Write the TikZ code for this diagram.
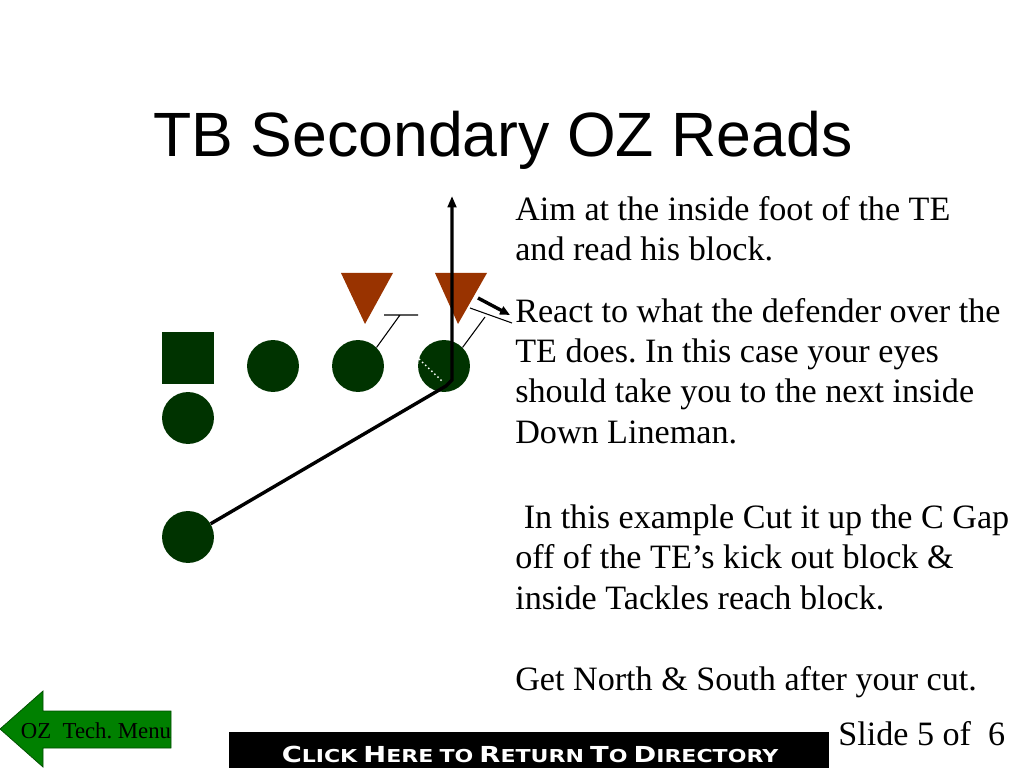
\documentclass[tikz,border=0pt]{standalone}
\usepackage{fontspec}
\setmainfont{Liberation Serif}
\newfontfamily\titlefont{Liberation Sans}
\newfontfamily\barfont{DejaVu Sans}
\usetikzlibrary{arrows.meta}
\definecolor{playergreen}{HTML}{003300}
\definecolor{defred}{HTML}{993300}
\definecolor{menugreen}{HTML}{008000}
\newcommand{\capsword}[2]{{\fontsize{15.5}{15.5}\selectfont #1}{\fontsize{12.5}{12.5}\selectfont #2}}
\frenchspacing
\begin{document}
\begin{tikzpicture}[x=0.703125pt,y=-0.703125pt,
	player/.style={circle,fill=playergreen,minimum size=36.5pt,inner sep=0pt},
	route/.style={line width=2.4pt,-{Triangle[length=8pt,width=6pt]}},
	block/.style={line width=0.75pt},
	notes/.style={anchor=base west,inner sep=0pt,align=left,font=\fontsize{24}{28.2}\selectfont}]
	\useasboundingbox (0,0) rectangle (1024,768);
	\node[anchor=base,inner sep=0pt,font=\titlefont\fontsize{44}{44}\selectfont] (title) at (503,157) {TB Secondary OZ Reads};
	% offense
	\node[fill=playergreen,minimum size=35.9pt,inner sep=0pt] (qb) at (188,358) {};
	\node[player] (fb) at (188,418) {};
	\node[player] (tackle) at (273,366) {};
	\node[player] (guard) at (358,366) {};
	\node[player] (te) at (444,366) {};
	\node[player] (tb) at (188,537) {};
	% defense
	\fill[defred] (341,273) -- (393,273) -- (365,324) -- cycle;
	\fill[defred] (435,273) -- (487,273) -- (458,324) -- cycle;
	% blocks
	\draw[block] (guard.45) -- (400,315) (384,315) -- (418,315);
	\draw[block] (te.45) -- (485,317) (470,308) -- (512,323);
	\draw[white,dotted,line width=1pt] (419,359) -- (443,382);
	\draw[line width=2.4pt,-{Triangle[length=7pt,width=6pt]}] (478,298) -- (510,315);
	% TB path
	\coordinate (bend) at (446,386);
	\coordinate (cut) at (452,380);
	\coordinate (north) at (452,196);
	\draw[route] (tb) -- (bend) -- (cut) -- (north);
	% notes (base = last line)
	\node[notes] (aim) at (515,261) {Aim at the inside foot of the TE\\and read his block.};
	\node[notes] (react) at (515,443) {React to what the defender over the\\TE does. In this case your eyes\\should take you to the next inside\\Down Lineman.};
	\node[notes] (cutgap) at (515,609) {\ In this example Cut it up the C Gap\\off of the TE’s kick out block \&\\inside Tackles reach block.};
	\node[notes] (getnorth) at (515,690) {Get North \& South after your cut.};
	% footer
	\fill[menugreen,draw=black!70!green,line width=0.5pt] (0,729) -- (43,691) -- (43,711) -- (171,711) -- (171,748) -- (43,748) -- (43,767) -- cycle;
	\node[anchor=base,inner sep=0pt,font=\fontsize{16}{16}\selectfont] (menu) at (96,738) {OZ\ \ Tech. Menu};
	\fill[black] (229,732) rectangle (829,768);
	\node[anchor=base,inner sep=0pt,text=white,font=\barfont\bfseries] (directory) at (530,762) {\scalebox{1.24}[1]{\capsword{C}{LICK} \capsword{H}{ERE} \capsword{}{TO} \capsword{R}{ETURN} \capsword{T}{O} \capsword{D}{IRECTORY}}};
	\node[anchor=base west,inner sep=0pt,font=\fontsize{24}{24}\selectfont] (slide) at (838,745) {Slide 5 of\ \ 6};
\end{tikzpicture}
\end{document}
